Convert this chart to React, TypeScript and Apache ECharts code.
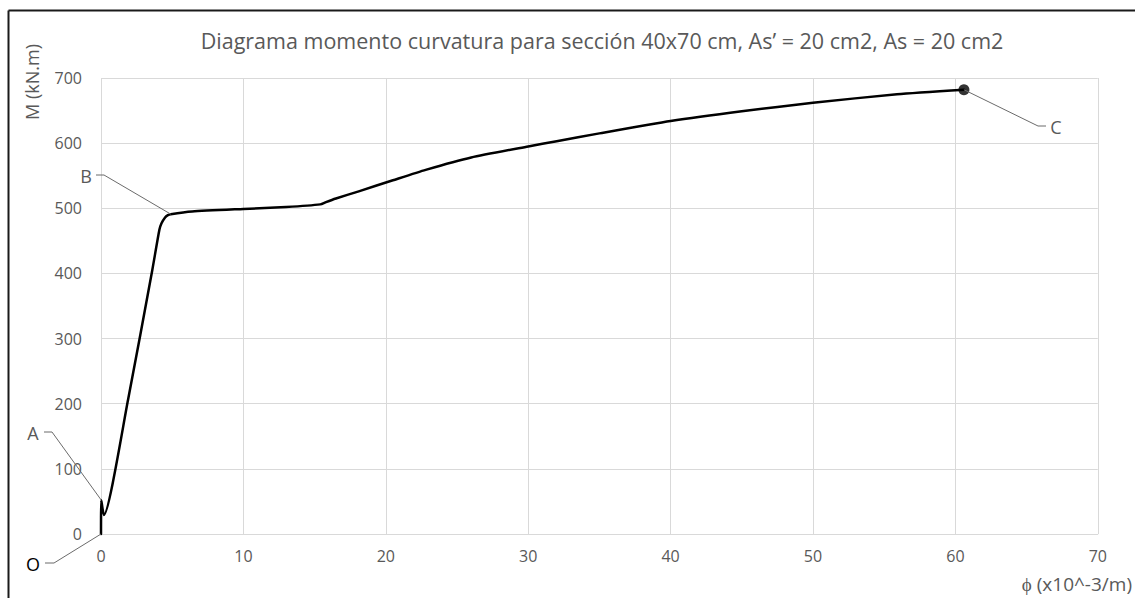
import React, { useEffect, useRef } from "react";
import * as echarts from "echarts";

// Curvature (x10^-3 / m)
const phi = [0, 0.02, 0.2, 1.9, 3.6, 4.1, 4.25, 4.5, 4.7, 4.9, 6.4, 10, 13, 15.4, 15.8, 16.5, 18.1, 20.5, 22.8, 26, 30, 32, 35, 40, 45, 50, 55.9, 60.6];
// Moment (kN.m)
const moment = [0, 52, 29, 206, 405, 467, 477, 486, 489.5, 491, 495, 499, 502, 506, 509.5, 515, 526, 543, 559, 578, 595, 603, 615, 634, 649, 662, 675, 682];

const titleText = "Diagrama momento curvatura para sección 40x70 cm, As’ = 20 cm2, As = 20 cm2";
const xAxisName = "ϕ (x10^-3/m)";
const yAxisName = "M (kN.m)";

// Annotated points: label and index into the data arrays
const pointLabels = ["O", "A", "B", "C"];
const pointIndex = [0, 1, 9, phi.length - 1];

// Layout of the callout labels (pixel positions of label text and leader elbow)
const calloutLayout = [
  { tx: 33, ty: 564, ex: 54, hx: 45, color: "#000000" },
  { tx: 33, ty: 433, ex: 52, hx: 44, color: "#595959" },
  { tx: 86, ty: 176, ex: 104, hx: 96, color: "#595959" },
  { tx: 1056, ty: 127, ex: 1038, hx: 1046, color: "#595959" },
];

export default function App() {
  const ref = useRef<HTMLDivElement>(null);

  useEffect(() => {
    const chart = echarts.init(ref.current!, null, { renderer: "svg" });
    const data = phi.map((p, i) => [p, moment[i]]);
    const font = "Open Sans";

    chart.setOption({
      animation: false,
      backgroundColor: "#ffffff",
      title: {
        text: titleText,
        left: 597,
        textAlign: "center",
        top: 24,
        textStyle: { color: "#595959", fontFamily: font, fontSize: 21.5, fontWeight: "normal" },
      },
      grid: { left: 101, right: 36, top: 78, bottom: 64, containLabel: false },
      xAxis: {
        type: "value",
        min: 0,
        max: 70,
        interval: 10,
        name: xAxisName,
        nameLocation: "end",
        nameGap: -76,
        nameTextStyle: {
          color: "#595959",
          fontFamily: font,
          fontSize: 19,
          align: "left",
          verticalAlign: "top",
          padding: [40, 0, 0, 0],
        },
        axisLine: { show: true, lineStyle: { color: "#d9d9d9", width: 1 } },
        axisTick: { show: false },
        axisLabel: { color: "#595959", fontFamily: font, fontSize: 16, margin: 14 },
        splitLine: { show: true, lineStyle: { color: "#d9d9d9", width: 1 } },
      },
      yAxis: {
        type: "value",
        min: 0,
        max: 700,
        interval: 100,
        axisLine: { show: false },
        axisTick: { show: false },
        axisLabel: { color: "#595959", fontFamily: font, fontSize: 16, margin: 19 },
        splitLine: { show: true, lineStyle: { color: "#d9d9d9", width: 1 } },
      },
      series: [
        {
          type: "line",
          data,
          symbol: "none",
          smooth: 0.2,
          clip: false,
          lineStyle: { color: "#000000", width: 2.5, join: "round", cap: "round" },
        },
        {
          type: "scatter",
          data: [data[data.length - 1]],
          symbol: "circle",
          symbolSize: 11,
          itemStyle: { color: "#000000" },
        },
      ],
    });

    const graphics: any[] = [
      // outer frame (left & top border)
      { type: "line", shape: { x1: 8.5, y1: 10.5, x2: 1135, y2: 10.5 }, style: { stroke: "#1a1a1a", lineWidth: 2 } },
      { type: "line", shape: { x1: 8.5, y1: 10.5, x2: 8.5, y2: 598 }, style: { stroke: "#1a1a1a", lineWidth: 2 } },
      {
        type: "text",
        x: 32,
        y: 82,
        rotation: Math.PI / 2,
        style: {
          text: yAxisName,
          fill: "#595959",
          font: `18px "${font}"`,
          align: "center",
          verticalAlign: "middle",
        },
      },
    ];

    pointLabels.forEach((lbl, k) => {
      const [px, py] = chart.convertToPixel({ gridIndex: 0 }, data[pointIndex[k]]) as number[];
      const c = calloutLayout[k];
      const lineY = c.ty - 1;
      graphics.push({
        type: "polyline",
        shape: { points: [[c.hx, lineY], [c.ex, lineY], [px, py]] },
        style: { stroke: "#6b6b6b", lineWidth: 1, fill: null },
        z: 10,
      });
      graphics.push({
        type: "text",
        x: c.tx,
        y: c.ty,
        style: {
          text: lbl,
          fill: c.color,
          font: `18px "${font}"`,
          align: "center",
          verticalAlign: "middle",
        },
        z: 10,
      });
    });

    chart.setOption({ graphic: graphics });
    return () => chart.dispose();
  }, []);

  return (
    <div
      ref={ref}
      style={{ position: "fixed", left: 0, top: 0, width: 1135, height: 598, background: "#ffffff" }}
    />
  );
}
